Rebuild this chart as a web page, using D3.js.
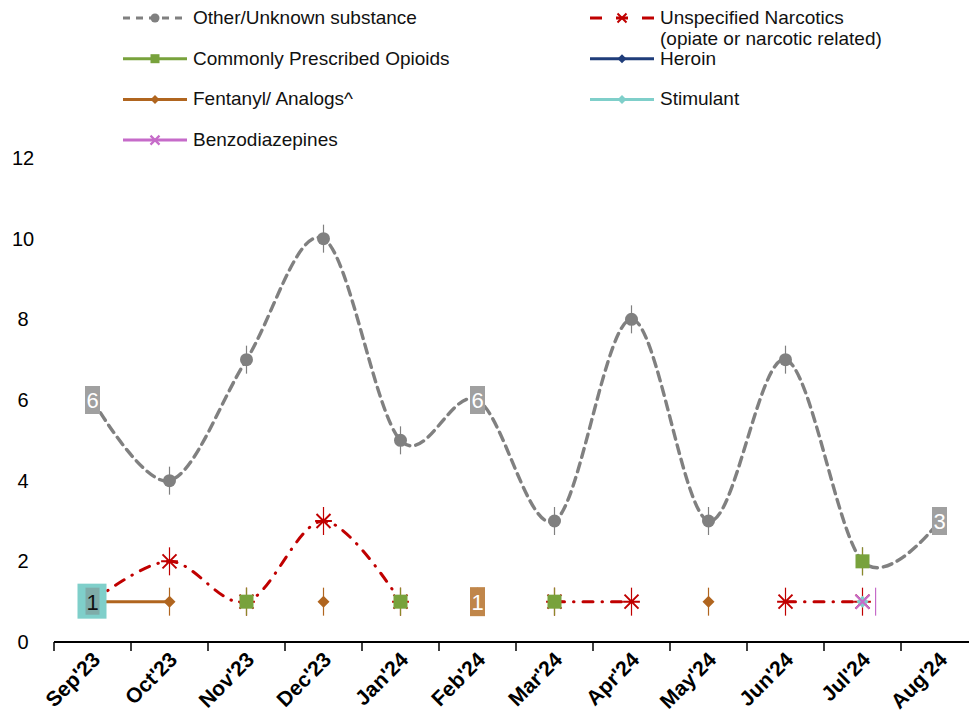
<!DOCTYPE html>
<html><head><meta charset="utf-8">
<script src="https://cdn.jsdelivr.net/npm/d3@7"></script>
<style>body{margin:0;background:#fff}svg{display:block;font-family:"Liberation Sans",Arial,sans-serif}</style>
</head><body><svg id="c" width="969" height="727"></svg>
<script>
const months = ["Sep'23","Oct'23","Nov'23","Dec'23","Jan'24","Feb'24","Mar'24","Apr'24","May'24","Jun'24","Jul'24","Aug'24"];
const yTicks = [0,2,4,6,8,10,12];
const other      = [6,4,7,10,5,6,3,8,3,7,2,3];
const narcotics  = [1,2,1,3,1,null,1,1,null,1,1,null];
const prescribed = [null,null,1,null,1,null,1,null,null,null,2,null];
const heroin     = [null,null,null,null,null,null,null,null,null,null,null,null];
const fentanyl   = [1,1,null,1,null,1,null,null,1,null,null,null];
const stimulant  = [1,null,null,null,null,null,null,null,null,null,1,null];
const benzo      = [null,null,null,null,null,null,null,null,null,null,1,null];

const C = {grey:"#808080", red:"#c00000", green:"#78a23c", navy:"#1f3d7a", brown:"#b0651f", teal:"#7fcfca", pink:"#c66bc9"};

const svg = d3.select("#c");
const x = d3.scaleBand().domain(months).range([54, 978]);
const cx = m => x(m) + x.bandwidth()/2;
const y = d3.scaleLinear().domain([0,12]).range([642, 158]);

// y tick labels
svg.append("g").selectAll("text").data(yTicks).join("text")
  .attr("x", 23).attr("y", d => y(d) + 7).attr("text-anchor","middle")
  .attr("font-size", 20).attr("fill","#000").text(d => d);

// x axis
const xa = svg.append("g").attr("transform","translate(0,642)");
xa.append("line").attr("x1",54).attr("x2",978).attr("stroke","#000").attr("stroke-width",2);
xa.selectAll("line.t").data(months.concat(["_end"])).join("line").attr("class","t")
  .attr("x1", (d,i) => 54 + i*x.step()).attr("x2",(d,i) => 54 + i*x.step())
  .attr("y1",0).attr("y2",9).attr("stroke","#000").attr("stroke-width",1.5);
xa.selectAll("text").data(months).join("text")
  .attr("transform", d => `translate(${cx(d)+9},${19}) rotate(-45)`)
  .attr("text-anchor","end").attr("font-size",21).attr("font-weight","bold").text(d => d);

function series(vals){ return months.map((m,i)=>({m, v: vals[i]})); }
function drawLine(vals, color, width, dash, curve){
  const line = d3.line().defined(d => d.v !== null).x(d => cx(d.m)).y(d => y(d.v)).curve(curve);
  svg.append("path").datum(series(vals)).attr("d", line).attr("fill","none")
    .attr("stroke", color).attr("stroke-width", width).attr("stroke-dasharray", dash)
    .attr("stroke-linecap","round");
}
function errBars(vals, color, off){
  svg.append("g").selectAll("line").data(series(vals).filter(d=>d.v!==null)).join("line")
    .attr("x1", d => cx(d.m)+(off||0)).attr("x2", d => cx(d.m)+(off||0))
    .attr("y1", d => y(d.v)-14).attr("y2", d => y(d.v)+14)
    .attr("stroke", color).attr("stroke-width",1.2);
}
function marker(g, type, color, px, py, s){
  if(type==="circle") g.append("circle").attr("cx",px).attr("cy",py).attr("r",s).attr("fill",color);
  else if(type==="square") g.append("rect").attr("x",px-s).attr("y",py-s).attr("width",2*s).attr("height",2*s).attr("fill",color);
  else if(type==="diamond") g.append("path").attr("d",`M${px},${py-s}L${px+s},${py}L${px},${py+s}L${px-s},${py}Z`).attr("fill",color);
  else if(type==="star"){
    g.append("path").attr("d",`M${px-s},${py-s}L${px+s},${py+s}M${px-s},${py+s}L${px+s},${py-s}M${px-s*1.2},${py}L${px+s*1.2},${py}`)
      .attr("stroke",color).attr("stroke-width",2).attr("fill","none");
  } else if(type==="x"){
    g.append("path").attr("d",`M${px-s},${py-s}L${px+s},${py+s}M${px-s},${py+s}L${px+s},${py-s}`)
      .attr("stroke",color).attr("stroke-width",2.2).attr("fill","none");
  }
}
function drawMarkers(vals, type, color, s){
  const g = svg.append("g");
  series(vals).filter(d=>d.v!==null).forEach(d => marker(g, type, color, cx(d.m), y(d.v), s));
}

const smooth = d3.curveCardinal.tension(0);
// Other / unknown
errBars(other, C.grey);
drawLine(other, C.grey, 3.4, "9,6", smooth);
drawMarkers(other, "circle", C.grey, 6.5);
// Narcotics
errBars(narcotics, C.red);
drawLine(narcotics, C.red, 3, "10,9,0.5,9", smooth);
drawMarkers(narcotics, "star", C.red, 7);
// Fentanyl
errBars(fentanyl, C.brown);
drawLine(fentanyl, C.brown, 3, null, d3.curveLinear);
drawMarkers(fentanyl, "diamond", C.brown, 6);
// Prescribed
errBars(prescribed, "#8a8a2a");
drawMarkers(prescribed, "square", C.green, 7);
drawLine(prescribed, C.green, 3, null, d3.curveLinear);
// Heroin
drawMarkers(heroin, "diamond", C.navy, 5);
// Stimulant
drawMarkers(stimulant, "diamond", C.teal, 6);
// Benzo
errBars(benzo, C.pink, x.bandwidth()*0.17);
drawMarkers(benzo, "x", C.pink, 7);

// data labels
function label(m, v, txt, bg, fg, w, h){
  const g = svg.append("g");
  g.append("rect").attr("x", cx(m)-w/2).attr("y", y(v)-h/2).attr("width", w).attr("height", h).attr("fill", bg);
  g.append("text").attr("x", cx(m)).attr("y", y(v)+8).attr("text-anchor","middle")
    .attr("font-size",22).attr("fill",fg).text(txt);
}
// Sep stimulant label with overlapping fentanyl label
(function(){
  const m = months[0], v = stimulant[0];
  svg.append("rect").attr("x", cx(m)-15).attr("y", y(v)-18).attr("width",29).attr("height",35).attr("fill",C.teal);
  svg.append("rect").attr("x", cx(m)-7).attr("y", y(v)-14).attr("width",14).attr("height",27).attr("fill","#808080").attr("opacity",0.45);
  svg.append("text").attr("x", cx(m)).attr("y", y(v)+8).attr("text-anchor","middle").attr("font-size",22).attr("fill","#111").text(stimulant[0]);
})();
label(months[0], other[0], other[0], "#a0a0a0", "#fff", 15, 28);
label(months[5], other[5], other[5], "#a0a0a0", "#fff", 15, 28);
label(months[11], other[11], other[11], "#a0a0a0", "#fff", 15, 28);
label(months[5], fentanyl[5], fentanyl[5], "#c0864a", "#fff", 15, 29);

// legend
const legend = [
  {name:"Other/Unknown substance", color:C.grey, type:"circle", dash:"7,6", col:0, row:0},
  {name:"Commonly Prescribed Opioids", color:C.green, type:"square", dash:null, col:0, row:1},
  {name:"Fentanyl/ Analogs^", color:C.brown, type:"diamond", dash:null, col:0, row:2},
  {name:"Benzodiazepines", color:C.pink, type:"x", dash:null, col:0, row:3},
  {name:["Unspecified Narcotics","(opiate or narcotic related)"], color:C.red, type:"star", dash:"12,14", col:1, row:0},
  {name:"Heroin", color:C.navy, type:"diamond", dash:null, col:1, row:1},
  {name:"Stimulant", color:C.teal, type:"diamond", dash:null, col:1, row:2}
];
const lg = svg.append("g");
legend.forEach(d => {
  const x0 = d.col ? 590 : 123, yy = 18 + d.row*40.7;
  lg.append("line").attr("x1",x0).attr("x2",x0+64).attr("y1",yy).attr("y2",yy)
    .attr("stroke",d.color).attr("stroke-width",3).attr("stroke-dasharray",d.dash);
  marker(lg, d.type, d.color, x0+32, yy, 4.5);
  const t = lg.append("text").attr("x", x0+70).attr("y", yy+6).attr("font-size",19).attr("fill","#111");
  const names = Array.isArray(d.name)? d.name : [d.name];
  names.forEach((n,i) => t.append("tspan").attr("x",x0+70).attr("dy", i?21:0).text(n));
});
</script></body></html>
